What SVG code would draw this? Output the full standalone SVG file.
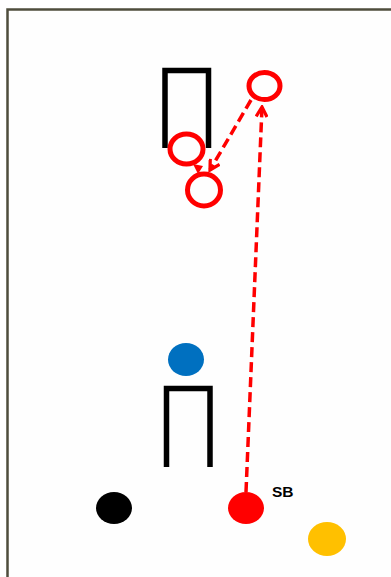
<svg xmlns="http://www.w3.org/2000/svg" width="391" height="577" viewBox="0 0 391 577">
<defs>
<marker id="open" viewBox="0 0 12 12" refX="10" refY="6" markerWidth="13" markerHeight="13" markerUnits="userSpaceOnUse" orient="auto">
<path d="M1,1 L10,6 L1,11" fill="none" stroke="#ff0000" stroke-width="3"/>
</marker>
</defs>
<style>
.goal{fill:none;stroke:#000;stroke-width:5.5}
.ring{fill:none;stroke:#ff0000;stroke-width:5}
.run{fill:none;stroke:#ff0000;stroke-width:3.5;stroke-dasharray:10 5}
.lbl{font-family:"Liberation Sans",Arial,sans-serif;font-weight:bold;font-size:15.5px;fill:#000}
</style>
<rect width="391" height="577" fill="#ffffff"/>
<rect x="7.5" y="9.5" width="400" height="600" fill="#fefefe" stroke="#4f4d3d" stroke-width="2.5"/>
<g id="goal-top"><path class="goal" d="M165,148 V70.5 H208.5 V148"/></g>
<g id="goal-bottom"><path class="goal" d="M166.5,467 V388.5 H210 V467"/></g>
<g id="cone-a"><ellipse class="ring" cx="264.5" cy="86" rx="15.5" ry="13.5"/></g>
<g id="cone-b"><ellipse class="ring" cx="186.5" cy="149" rx="16.5" ry="15"/></g>
<g id="cone-c"><ellipse class="ring" cx="204" cy="190" rx="16.5" ry="16"/></g>
<g id="link"><path d="M193,164 L203,166 L198,174 Z" fill="#ff0000"/></g>
<g id="blue"><ellipse cx="186" cy="359.5" rx="18" ry="16.5" fill="#0070c0"/></g>
<g id="black"><ellipse cx="114" cy="508" rx="18" ry="16" fill="#000000"/></g>
<g id="sb"><ellipse cx="246" cy="508" rx="18" ry="16" fill="#ff0000"/><text class="lbl" x="272" y="497">SB</text></g>
<g id="yellow"><ellipse cx="327" cy="539" rx="19" ry="17" fill="#ffc000"/></g>
<g id="connectors">
<line class="run" x1="246" y1="492" x2="262" y2="107" marker-end="url(#open)"/>
<line class="run" x1="251" y1="100" x2="210" y2="170" marker-end="url(#open)"/>
</g>
</svg>
